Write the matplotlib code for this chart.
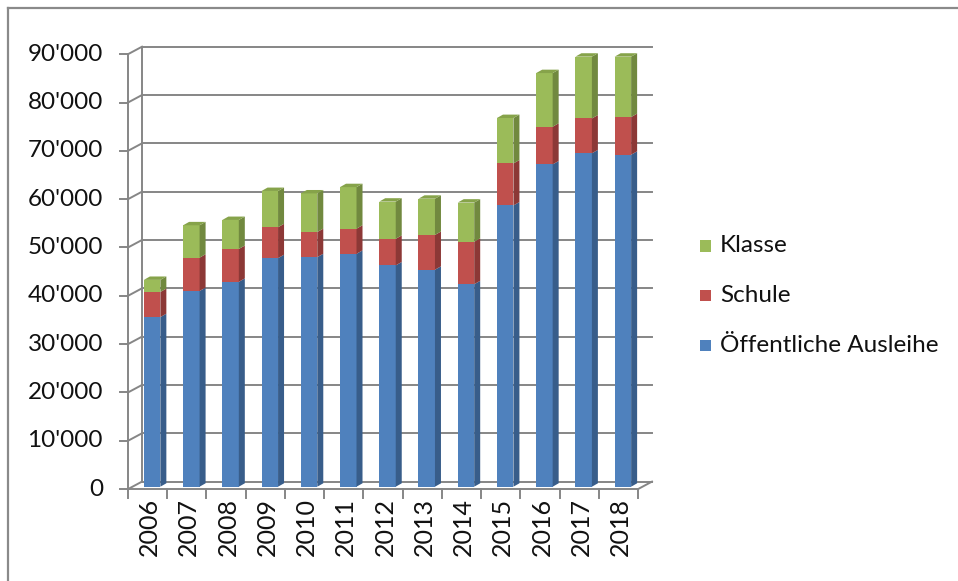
import matplotlib
matplotlib.use("Agg")
import matplotlib.pyplot as plt
from matplotlib.patches import Polygon, Rectangle
from matplotlib.lines import Line2D
import numpy as np

plt.rcParams['font.family'] = ['Lato', 'DejaVu Sans']

years = ['2006', '2007', '2008', '2009', '2010', '2011', '2012',
         '2013', '2014', '2015', '2016', '2017', '2018']
oeffentlich = [35100, 40500, 42400, 47300, 47500, 48200, 45800,
               44900, 41900, 58200, 66700, 69000, 68700]
schule = [5200, 6900, 6800, 6400, 5200, 5200, 5500,
          7200, 8800, 8700, 7800, 7200, 7800]
klasse = [2500, 6700, 6000, 7500, 8000, 8600, 7700,
          7500, 8100, 9400, 11100, 12800, 12500]
series_names = ['Öffentliche Ausleihe', 'Schule', 'Klasse']
yticks = [0, 10000, 20000, 30000, 40000, 50000, 60000, 70000, 80000, 90000]
ytick_labels = ["0", "10'000", "20'000", "30'000", "40'000", "50'000",
                "60'000", "70'000", "80'000", "90'000"]

front_cols = ['#4F81BD', '#C0504D', '#9BBB59']
side_cols = ['#385D8A', '#8C3836', '#71893F']
top_cols = ['#5A8BC6', '#C85A57', '#86A34A']

W, H = 958, 581
fig = plt.figure(figsize=(W / 100, H / 100), dpi=100)

# bar plane geometry in pixels
left_px, right_px = 132.5, 642.5
y0_px, ytop_px = 486.7, 51.8
ax = fig.add_axes([left_px / W, (H - y0_px) / H,
                   (right_px - left_px) / W, (y0_px - ytop_px) / H])
n = len(years)
ax.set_xlim(-0.5, n - 0.5)
ax.set_ylim(0, 90000)
ax.axis('off')

pxx = (right_px - left_px) / n          # px per category unit
pxy = (y0_px - ytop_px) / 90000          # px per value unit
def dxu(px):
    return px / pxx
def dyu(px):
    return px / pxy

# offsets for front / back planes relative to bar plane
fdx, fdy = dxu(-4.5), dyu(-2.4)
bdx, bdy = dxu(9.5), dyu(5.1)
grid_c = '#868686'
lw = 1.4
txt_c = '#111111'

# back wall gridlines
for v in yticks:
    ax.add_line(Line2D([-0.5 + bdx, n - 0.5 + bdx], [v + bdy, v + bdy],
                       color=grid_c, lw=lw, clip_on=False, zorder=1))
    ax.add_line(Line2D([-0.5 + fdx, -0.5 + bdx], [v + fdy, v + bdy],
                       color=grid_c, lw=lw, clip_on=False, zorder=1))
    ax.add_line(Line2D([-0.5 + fdx - dxu(8), -0.5 + fdx], [v + fdy, v + fdy],
                       color=grid_c, lw=lw, clip_on=False, zorder=1))
ax.add_line(Line2D([-0.5 + bdx, -0.5 + bdx], [bdy, 90000 + bdy],
                   color=grid_c, lw=lw, clip_on=False, zorder=1))
ax.add_line(Line2D([-0.5 + fdx, -0.5 + fdx], [fdy, 90000 + fdy],
                   color=grid_c, lw=lw, clip_on=False, zorder=1))
ax.add_line(Line2D([-0.5 + fdx, n - 0.5 + fdx], [fdy, fdy],
                   color=grid_c, lw=lw, clip_on=False, zorder=1))
ax.add_line(Line2D([n - 0.5 + fdx, n - 0.5 + bdx], [fdy, bdy],
                   color=grid_c, lw=lw, clip_on=False, zorder=1))
for i in range(n + 1):
    xb = i - 0.5 + fdx
    ax.add_line(Line2D([xb, xb], [fdy, fdy - dyu(9)],
                       color=grid_c, lw=lw, clip_on=False, zorder=1))

# y labels
for v, lab in zip(yticks, ytick_labels):
    ax.text(-0.5 + fdx - dxu(25), v + fdy, lab, ha='right', va='center',
            fontsize=17.5, color=txt_c, clip_on=False)
# x labels
x = np.arange(n)
for i, lab in enumerate(years):
    ax.text(i + fdx + dxu(2), fdy - dyu(9), lab, ha='center', va='top',
            rotation=90, fontsize=18, color=txt_c, clip_on=False)

# bars
bw = 0.42
sdx, sdy = dxu(6), dyu(3.4)
data = [oeffentlich, schule, klasse]
bottoms = np.zeros(n)
for k, vals in enumerate(data):
    vals = np.array(vals, dtype=float)
    ax.bar(x, vals, width=bw, bottom=bottoms, color=front_cols[k],
           zorder=3, label=series_names[k], linewidth=0)
    for i in range(n):
        xr = x[i] + bw / 2
        b = bottoms[i]
        t = b + vals[i]
        ax.add_patch(Polygon([[xr, b], [xr + sdx, b + sdy], [xr + sdx, t + sdy], [xr, t]],
                             closed=True, facecolor=side_cols[k], edgecolor='none',
                             zorder=3, clip_on=False))
        if k == len(data) - 1:
            xl = x[i] - bw / 2
            ax.add_patch(Polygon([[xl, t], [xr, t], [xr + sdx, t + sdy], [xl + sdx, t + sdy]],
                                 closed=True, facecolor=top_cols[k], edgecolor='none',
                                 zorder=3, clip_on=False))
    bottoms = bottoms + vals

# legend (manual)
leg_items = list(zip(series_names, front_cols))[::-1]
leg_y = [246, 295, 345]
for (name, col), yy in zip(leg_items, leg_y):
    fig.patches.append(Rectangle((700 / W, (H - yy - 5.5) / H), 11 / W, 11 / H,
                                 transform=fig.transFigure, facecolor=col,
                                 edgecolor='none'))
    fig.text(720 / W, (H - yy) / H, name, ha='left', va='center',
             fontsize=17.5, color=txt_c)

# outer frame (left and top)
fig.add_artist(Line2D([7.5 / W, 7.5 / W], [0, (H - 7.5) / H], color='#8a8a8a',
                      lw=1.6, transform=fig.transFigure))
fig.add_artist(Line2D([7.5 / W, 1], [(H - 7.5) / H, (H - 7.5) / H], color='#8a8a8a',
                      lw=1.6, transform=fig.transFigure))

fig.savefig('out.png', dpi=100, facecolor='white')
